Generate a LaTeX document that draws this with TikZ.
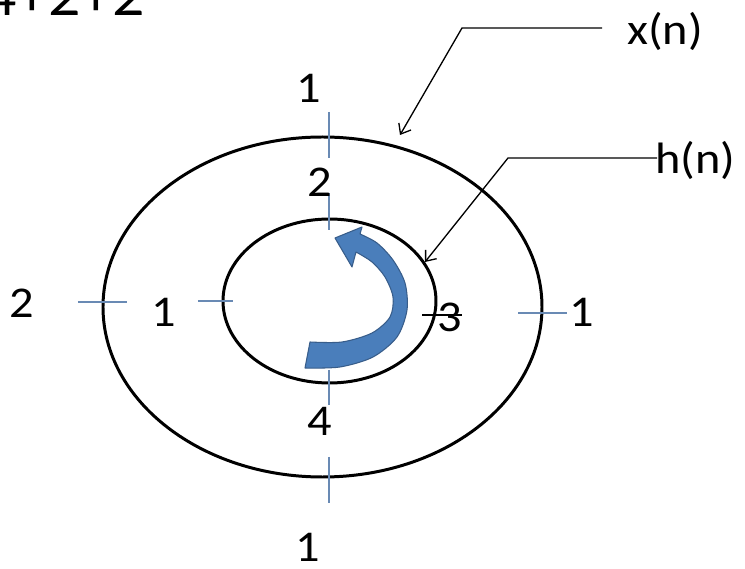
\documentclass[tikz,border=0pt]{standalone}
\usepackage{fontspec}
\setmainfont{Carlito}[FakeStretch=1.1]
\usetikzlibrary{positioning}
\usetikzlibrary{arrows.meta}
\usetikzlibrary{shapes.geometric}
\definecolor{tickblue}{RGB}{105,138,180}
\definecolor{arrowblue}{RGB}{74,126,187}
\definecolor{arrowedge}{RGB}{56,93,138}

\begin{document}
\begin{tikzpicture}[
    ring/.style={draw, ellipse, line width=1.7pt, inner sep=0pt},
    lbl/.style={font=\fontsize{25}{30}\selectfont, inner sep=0pt},
    tick/.style={draw=tickblue, line width=0.8pt},
    leader/.style={line width=0.75pt, -{Straight Barb[length=5pt,width=8pt]}}]
    \clip (-6.45,-5.24) rectangle (8.45,6.14);

    % Rings
    \node[ring, minimum width=8.78cm, minimum height=6.80cm] (outer) at (0,0) {};
    \node[ring, minimum width=4.26cm, minimum height=3.28cm] (inner) at (0.14,0.12) {};

    % Vertical ticks
    \foreach \ya/\yb in {3.90/2.98, 2.28/1.54, -1.26/-1.96, -3.00/-3.92} {
        \draw[tick] (0.13,\ya) -- (0.13,\yb);
    }
    % Horizontal ticks
    \draw[tick] (-4.89,0.10) -- (-3.91,0.10);
    \draw[tick] (-2.49,0.12) -- (-1.79,0.12);
    \draw[tick] (3.91,-0.12) -- (4.89,-0.12);
    \draw[line width=1.1pt] (1.99,-0.16) -- (2.79,-0.16);

    % Turning arrow
    \filldraw[fill=arrowblue, draw=arrowedge, line width=0.6pt, line join=round]
        plot[smooth] coordinates {(-0.35,-1.22) (0.35,-1.20) (1.01,-1.00) (1.49,-0.60)
            (1.69,-0.06) (1.65,0.48) (1.41,0.94) (1.09,1.28) (0.75,1.46)}
        -- (0.79,1.60) -- (0.25,1.38) -- (0.59,0.80) --
        plot[smooth] coordinates {(0.67,1.10) (0.99,0.90) (1.25,0.60) (1.41,0.20)
            (1.35,-0.20) (0.99,-0.52) (0.39,-0.70) (-0.25,-0.70)}
        -- cycle;

    % Sample values
    \node[lbl] (xtop) at (-0.27,4.38) {1};
    \node[lbl] (xleft) at (-6.01,0.08) {2};
    \node[lbl] (xright) at (5.19,-0.10) {1};
    \node[lbl] (xbottom) at (-0.29,-4.80) {1};
    \node[lbl] (htop) at (-0.05,2.50) {2};
    \node[lbl] (hleft) at (-3.17,-0.10) {1};
    \node[lbl] (hright) at (2.55,-0.20) {3};
    \node[lbl] (hbottom) at (-0.05,-2.28) {4};

    % Sum in the corner
    \node[lbl, font=\fontsize{33}{40}\selectfont, anchor=base east] (sum) at (-3.55,5.82) {4+2+2};

    % Signal names
    \node[lbl, anchor=base west] (xn) at (6.09,5.24) {x(n)};
    \node[lbl, anchor=base west] (hn) at (6.65,2.66) {h(n)};
    \coordinate (xbend) at (2.79,5.58);
    \coordinate (xtip) at (1.55,3.44);
    \coordinate (hbend) at (3.71,2.98);
    \coordinate (htip) at (2.05,0.90);
    \draw[leader] ([shift={(-0.50,0.34)}]xn.base west) -- (xbend) -- (xtip);
    \draw[leader] ([shift={(0.04,0.32)}]hn.base west) -- (hbend) -- (htip);
\end{tikzpicture}
\end{document}
